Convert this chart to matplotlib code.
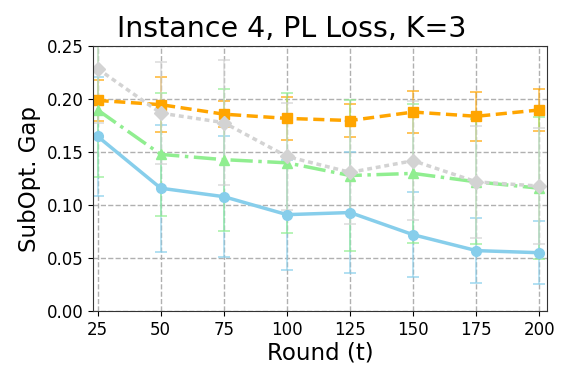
import numpy as np
import matplotlib
matplotlib.use("Agg")
import matplotlib.pyplot as plt

rounds = [25, 50, 75, 100, 125, 150, 175, 200]

blue_mean = [0.165, 0.116, 0.108, 0.091, 0.093, 0.072, 0.057, 0.055]
blue_err = [0.056, 0.060, 0.057, 0.052, 0.057, 0.040, 0.031, 0.030]

orange_mean = [0.199, 0.195, 0.186, 0.182, 0.180, 0.188, 0.184, 0.190]
orange_err = [0.019, 0.026, 0.012, 0.020, 0.016, 0.020, 0.023, 0.020]

green_mean = [0.190, 0.148, 0.143, 0.140, 0.128, 0.130, 0.122, 0.116]
green_err = [0.063, 0.058, 0.067, 0.066, 0.071, 0.066, 0.059, 0.067]

gray_mean = [0.229, 0.187, 0.178, 0.146, 0.131, 0.142, 0.122, 0.118]
gray_err = [0.051, 0.048, 0.059, 0.051, 0.049, 0.056, 0.053, 0.055]

series = [
    (blue_mean, blue_err, "skyblue", "-", "o"),
    (orange_mean, orange_err, "orange", (0, (3.2, 1.6)), "s"),
    (green_mean, green_err, "lightgreen", "-.", "^"),
    (gray_mean, gray_err, "lightgray", (0, (1.4, 1.1)), "D"),
]

fig = plt.figure(figsize=(5.71, 3.81), dpi=100)
ax = fig.add_axes([0.163, 0.184, 0.795, 0.694])

for mean, err, col, ls, mk in series:
    eb = ax.errorbar(rounds, mean, yerr=err, color=col, linestyle=ls, marker=mk,
                     linewidth=2.5, markersize=7, capsize=4, elinewidth=1.3,
                     capthick=1.2, ecolor=col)
    for c in eb[1]:
        c.set_alpha(0.75)
    for c in eb[2]:
        c.set_alpha(0.6)

ax.set_xlim(23.2, 203)
ax.set_ylim(0, 0.25)
ax.set_xticks(rounds)
ax.set_yticks([0.0, 0.05, 0.10, 0.15, 0.20, 0.25])
ax.set_yticklabels(["0.00", "0.05", "0.10", "0.15", "0.20", "0.25"])
ax.tick_params(labelsize=12)
ax.grid(True, linestyle="--", color="#b0b0b0", linewidth=1)
ax.set_axisbelow(True)
for s in ax.spines.values():
    s.set_color("#333333")

ax.set_xlabel("Round (t)", fontsize=16.5, labelpad=2)
ax.set_ylabel("SubOpt. Gap", fontsize=16.5, labelpad=4)
fig.text(291.5 / 571, 1 - 37 / 381, "Instance 4, PL Loss, K=3",
         fontsize=20.5, ha="center", va="baseline")

fig.savefig("out.png", dpi=100)
